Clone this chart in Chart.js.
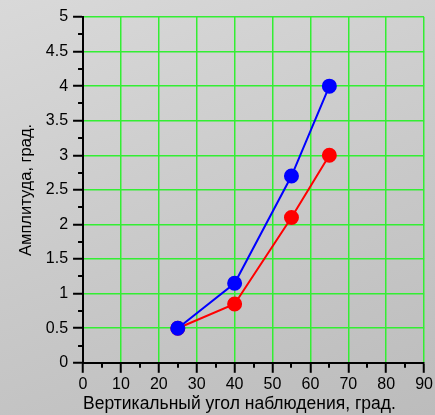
<!DOCTYPE html>
<html>
<head>
<meta charset="utf-8">
<script src="https://cdn.jsdelivr.net/npm/chart.js@4"></script>
<style>
    html, body { margin: 0; padding: 0; }
    body {
        width: 435px; height: 415px;
        background: linear-gradient(160deg, #d9d9d9 0%, #cacaca 50%, #bcbcbc 100%);
    }
    #wrap { width: 435px; height: 415px; }
</style>
</head>
<body>
<div id="wrap"><canvas id="ampChart" width="435" height="415"></canvas></div>
<script>
// углы наблюдения и амплитуды для двух серий
const angles = [25, 40, 55, 65];
const ampBlue = [0.5, 1.15, 2.7, 4];
const ampRed = [0.5, 0.85, 2.1, 3];

const xTicks = [0, 10, 20, 30, 40, 50, 60, 70, 80, 90];
const yTicks = [0, 0.5, 1, 1.5, 2, 2.5, 3, 3.5, 4, 4.5, 5];

const FONT = "'Liberation Sans', Arial, sans-serif";

// короткие промежуточные засечки между основными
const minorTicks = {
    id: 'minorTicks',
    afterDraw(chart) {
        const { ctx, scales: { x, y } } = chart;
        ctx.save();
        ctx.strokeStyle = '#000';
        ctx.lineWidth = 2;
        ctx.beginPath();
        for (let i = 0; i < yTicks.length - 1; i++) {
            const py = Math.round(y.getPixelForValue((yTicks[i] + yTicks[i + 1]) / 2));
            ctx.moveTo(x.left, py);
            ctx.lineTo(x.left - 5, py);
        }
        for (let i = 0; i < xTicks.length - 1; i++) {
            const px = Math.round(x.getPixelForValue((xTicks[i] + xTicks[i + 1]) / 2));
            ctx.moveTo(px, y.bottom);
            ctx.lineTo(px, y.bottom + 5);
        }
        ctx.stroke();
        ctx.restore();
    }
};

const ctx = document.getElementById('ampChart').getContext('2d');

new Chart(ctx, {
    type: 'line',
    data: {
        datasets: [{
            data: angles.map((a, i) => ({ x: a, y: ampBlue[i] })),
            borderColor: '#0000ff',
            backgroundColor: '#0000ff',
            borderWidth: 2,
            pointRadius: 6.5,
            pointHoverRadius: 6.5
        }, {
            data: angles.map((a, i) => ({ x: a, y: ampRed[i] })),
            borderColor: '#ff0000',
            backgroundColor: '#ff0000',
            borderWidth: 2,
            pointRadius: 6.5,
            pointHoverRadius: 6.5
        }]
    },
    options: {
        responsive: false,
        animation: false,
        layout: { padding: { left: 17, right: 7, top: 17, bottom: 0 } },
        plugins: {
            legend: { display: false },
            tooltip: { enabled: false }
        },
        scales: {
            x: {
                type: 'linear',
                min: 0, max: 90,
                afterBuildTicks: s => { s.ticks = xTicks.map(v => ({ value: v })); },
                grid: {
                    color: '#33ee33',
                    lineWidth: 1.5,
                    tickColor: '#000',
                    tickLength: 10,
                    tickWidth: 2
                },
                border: { color: '#000', width: 2 },
                ticks: {
                    color: '#000',
                    font: { family: FONT, size: 16 },
                    padding: 2,
                    maxRotation: 0,
                    callback: v => String(v)
                },
                title: {
                    display: true,
                    align: 'start',
                    text: 'Вертикальный угол наблюдения, град.',
                    color: '#000',
                    font: { family: FONT, size: 17.5 },
                    padding: { top: -2, bottom: 0 }
                }
            },
            y: {
                type: 'linear',
                min: 0, max: 5,
                afterBuildTicks: s => { s.ticks = yTicks.map(v => ({ value: v })); },
                grid: {
                    color: '#33ee33',
                    lineWidth: 1.5,
                    tickColor: '#000',
                    tickLength: 10,
                    tickWidth: 2
                },
                border: { color: '#000', width: 2 },
                ticks: {
                    color: '#000',
                    font: { family: FONT, size: 16 },
                    padding: 5,
                    callback: v => String(v)
                },
                title: {
                    display: true,
                    text: 'Амплитуда, град.',
                    color: '#000',
                    font: { family: FONT, size: 16.5 },
                    padding: { top: 0, bottom: 4 }
                }
            }
        }
    },
    plugins: [minorTicks]
});
</script>
</body>
</html>
